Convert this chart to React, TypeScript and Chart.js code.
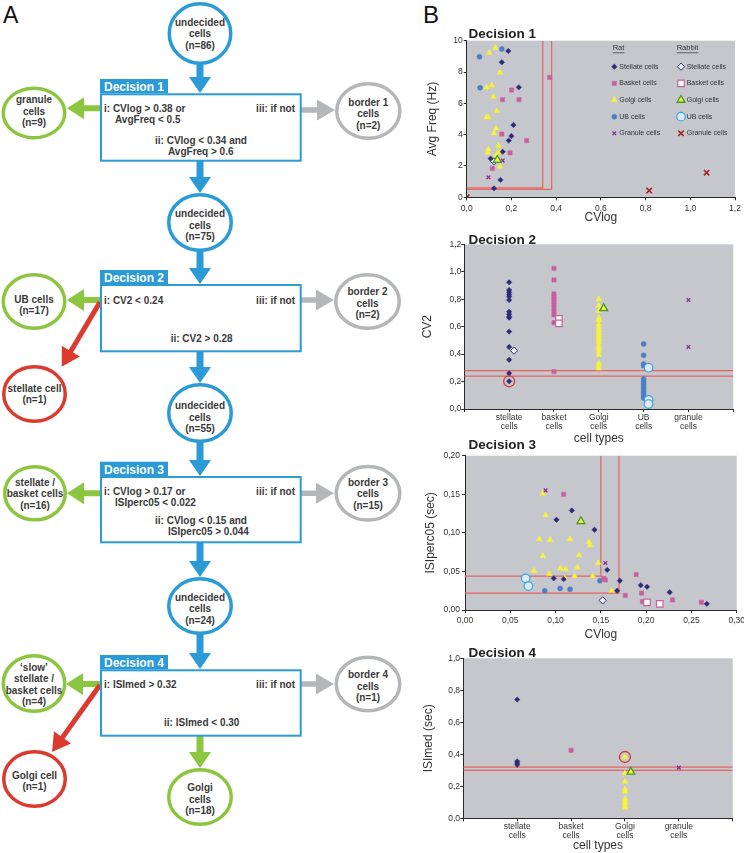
import React, { useEffect, useRef } from 'react';
import { Chart, registerables } from 'chart.js';

Chart.register(...registerables);

const FONT = "'Liberation Sans', Arial, Helvetica, sans-serif";

// ===== Decision 1: CVlog (x) vs Avg Freq in Hz (y) =====
const d1Stellate = [[0.186, 9.34], [0.157, 8.62], [0.233, 7.02], [0.209, 4.62], [0.2, 3.91], [0.188, 3.62], [0.161, 2.91], [0.107, 2.47], [0.119, 2.28], [0.151, 1.11], [0.122, 0.57]];
const d1Basket = [[0.371, 7.66], [0.201, 6.85], [0.16, 6.23], [0.234, 6.23], [0.157, 4.04], [0.268, 3.62], [0.194, 2.83], [0.115, 1.85]];
const d1Golgi = [[0.128, 9.55], [0.101, 9.23], [0.149, 7.96], [0.089, 7.02], [0.112, 7.15], [0.119, 6.43], [0.134, 5.51], [0.097, 5.11], [0.089, 5.11], [0.131, 4.4], [0.122, 4.09], [0.142, 3.3], [0.097, 3.06], [0.094, 2.85], [0.145, 2.91], [0.134, 2.7], [0.149, 1.96], [0.127, 2.55]];
const d1UB = [[0.157, 9.47], [0.057, 8.98], [0.06, 7.0]];
const d1Granule = [[0.161, 2.34], [0.097, 1.28]];
const d1RabbitStellate = [[0.122, 2.3]];
const d1RabbitGolgi = [[0.137, 2.38]];
const d1RabbitGranule = [[0.0, 0.0], [0.816, 0.43], [1.073, 1.57]];
const d1CVlogLimits = [0.34, 0.38];
const d1FreqLimits = [0.6, 0.5];

// ===== Decision 2: CV2 per cell type =====
const d2Categories = [['stellate', 'cells'], ['basket', 'cells'], ['Golgi', 'cells'], ['UB', 'cells'], ['granule', 'cells']];
const d2Stellate = [0.923, 0.867, 0.85, 0.833, 0.819, 0.794, 0.709, 0.69, 0.673, 0.665, 0.564, 0.452, 0.359, 0.26, 0.202];
const d2Basket = [1.025, 0.94, 0.838, 0.819, 0.8, 0.782, 0.758, 0.733, 0.709, 0.685, 0.629, 0.272];
const d2Golgi = [0.8, 0.753, 0.714, 0.665, 0.648, 0.617, 0.595, 0.576, 0.556, 0.539, 0.52, 0.503, 0.483, 0.459, 0.442, 0.423, 0.394, 0.333, 0.316, 0.296];
const d2UB = [0.474, 0.391, 0.328, 0.316, 0.219, 0.199, 0.182, 0.163, 0.146, 0.126, 0.109, 0.09, 0.08];
const d2Granule = [0.794, 0.452];
const d2RabbitStellate = [0.425];
const d2RabbitBasket = [0.656, 0.624];
const d2RabbitGolgi = [0.733];
const d2RabbitUB = [0.301, 0.066, 0.036];
const d2MarkedStellate = [0.202];
const d2Limits = [0.24, 0.28];

// ===== Decision 3: CVlog (x) vs ISIperc05 in sec (y) =====
const d3Stellate = [[0.118, 0.129], [0.101, 0.117], [0.143, 0.104], [0.157, 0.052], [0.171, 0.038], [0.168, 0.025], [0.194, 0.032], [0.201, 0.03], [0.226, 0.023], [0.267, 0.008], [0.098, 0.041], [0.109, 0.04]];
const d3Basket = [[0.109, 0.15], [0.155, 0.039], [0.153, 0.041], [0.189, 0.046], [0.177, 0.019], [0.195, 0.022], [0.196, 0.011], [0.229, 0.013], [0.261, 0.01]];
const d3Golgi = [[0.086, 0.151], [0.089, 0.123], [0.082, 0.092], [0.094, 0.091], [0.116, 0.092], [0.137, 0.088], [0.138, 0.084], [0.086, 0.07], [0.126, 0.071], [0.147, 0.061], [0.076, 0.051], [0.105, 0.054], [0.111, 0.053], [0.124, 0.055], [0.093, 0.047], [0.121, 0.044], [0.141, 0.044], [0.11, 0.041], [0.162, 0.025]];
const d3UB = [[0.088, 0.025], [0.105, 0.028], [0.116, 0.027], [0.149, 0.038]];
const d3Granule = [[0.089, 0.155], [0.155, 0.061]];
const d3RabbitStellate = [[0.152, 0.0125]];
const d3RabbitBasket = [[0.201, 0.01], [0.215, 0.008]];
const d3RabbitGolgi = [[0.128, 0.115]];
const d3RabbitUB = [[0.067, 0.041], [0.07, 0.031]];
const d3CVlogLimits = [0.15, 0.17];
const d3IsiLimits = [0.044, 0.022];

// ===== Decision 4: ISImed per cell type =====
const d4Categories = [['stellate', 'cells'], ['basket', 'cells'], ['Golgi', 'cells'], ['granule', 'cells']];
const d4Stellate = [0.742, 0.356, 0.346, 0.335];
const d4Basket = [0.425];
const d4Golgi = [0.383, 0.281, 0.229, 0.181, 0.167, 0.121, 0.108, 0.094, 0.077, 0.067];
const d4Granule = [0.317];
const d4RabbitGolgi = [0.29];
const d4MarkedGolgi = [0.383];
const d4Limits = [0.3, 0.32];

const RABBIT_OFFSET = 0.11;

// ===== styles =====
const BG = '#c5c7cd';
const AXIS = '#2a2a2a';
const TICK_TXT = '#333';
const LIMIT = '#e5645c';

const ST: Record<string, any> = {
  stellate: { pointStyle: 'rectRot', pointRadius: 2.7, pointBackgroundColor: '#2e2b7d', pointBorderColor: '#2e2b7d', pointBorderWidth: 0.5 },
  basket: { pointStyle: 'rect', pointRadius: 3, pointBackgroundColor: '#c8609c', pointBorderColor: '#c8609c', pointBorderWidth: 0.5 },
  golgi: { pointStyle: 'triangle', pointRadius: 3.3, pointBackgroundColor: '#f7f23a', pointBorderColor: '#f7f23a', pointBorderWidth: 0.5 },
  ub: { pointStyle: 'circle', pointRadius: 2.5, pointBackgroundColor: '#4c7ec3', pointBorderColor: '#4c7ec3', pointBorderWidth: 0.5 },
  granule: { pointStyle: 'crossRot', pointRadius: 2.6, pointBackgroundColor: '#8e2e8e', pointBorderColor: '#8e2e8e', pointBorderWidth: 1.3 },
  rStellate: { pointStyle: 'rectRot', pointRadius: 3.6, pointBackgroundColor: '#eef3fa', pointBorderColor: '#2e2b7d', pointBorderWidth: 1 },
  rBasket: { pointStyle: 'rect', pointRadius: 4.6, pointBackgroundColor: '#ffffff', pointBorderColor: '#c8609c', pointBorderWidth: 1.2 },
  rGolgi: { pointStyle: 'triangle', pointRadius: 4.5, pointBackgroundColor: '#f7f23a', pointBorderColor: '#3f9a2a', pointBorderWidth: 1.3 },
  rUB: { pointStyle: 'circle', pointRadius: 4.3, pointBackgroundColor: '#dde9f5', pointBorderColor: '#3aa3e3', pointBorderWidth: 1.2 },
  rGranule: { pointStyle: 'crossRot', pointRadius: 3.8, pointBackgroundColor: '#a82222', pointBorderColor: '#a82222', pointBorderWidth: 1.6 },
  mark: { pointStyle: 'circle', pointRadius: 5.5, pointBackgroundColor: 'rgba(0,0,0,0)', pointBorderColor: '#d8372c', pointBorderWidth: 1.3 },
};

const pairs = (a: number[][]) => a.map(([x, y]) => ({ x, y }));
const column = (cat: number, vals: number[], off = 0) => vals.map((y) => ({ x: cat + off, y }));
const pts = (data: any[], st: any) => ({ data, ...st, pointHoverRadius: st.pointRadius, showLine: false });
const limitLine = (data: any[]) => ({ data, showLine: true, borderColor: LIMIT, borderWidth: 1.2, pointRadius: 0, pointHoverRadius: 0, fill: false, tension: 0 });
const comma = (d: number) => (v: number) => v.toFixed(d).replace('.', ',');

function drawMarker(ctx: CanvasRenderingContext2D, st: any, x: number, y: number) {
  const r = st.pointRadius;
  ctx.save();
  ctx.fillStyle = st.pointBackgroundColor;
  ctx.strokeStyle = st.pointBorderColor;
  ctx.lineWidth = st.pointBorderWidth;
  ctx.beginPath();
  const s = r * Math.SQRT1_2;
  switch (st.pointStyle) {
    case 'circle': ctx.arc(x, y, r, 0, Math.PI * 2); ctx.fill(); ctx.stroke(); break;
    case 'rect': ctx.rect(x - s, y - s, 2 * s, 2 * s); ctx.fill(); ctx.stroke(); break;
    case 'rectRot': ctx.moveTo(x, y - r); ctx.lineTo(x + r, y); ctx.lineTo(x, y + r); ctx.lineTo(x - r, y); ctx.closePath(); ctx.fill(); ctx.stroke(); break;
    case 'triangle': {
      const a = Math.PI * 2 / 3;
      ctx.moveTo(x, y - r); ctx.lineTo(x + Math.sin(a) * r, y - Math.cos(a) * r); ctx.lineTo(x + Math.sin(2 * a) * r, y - Math.cos(2 * a) * r); ctx.closePath(); ctx.fill(); ctx.stroke(); break;
    }
    case 'crossRot': ctx.moveTo(x - s, y - s); ctx.lineTo(x + s, y + s); ctx.moveTo(x + s, y - s); ctx.lineTo(x - s, y + s); ctx.stroke(); break;
  }
  ctx.restore();
}

const LEGEND_ROWS = [
  ['Stellate cells', 'stellate', 'rStellate'],
  ['Basket cells', 'basket', 'rBasket'],
  ['Golgi cells', 'golgi', 'rGolgi'],
  ['UB cells', 'ub', 'rUB'],
  ['Granule cells', 'granule', 'rGranule'],
];

function panelPlugin(title: string, titleDy: number, legend: boolean) {
  return {
    id: 'panel',
    beforeDraw(chart: any) {
      const { ctx, chartArea: a } = chart;
      ctx.save();
      ctx.fillStyle = BG;
      ctx.fillRect(a.left, a.top, a.right - a.left, a.bottom - a.top);
      ctx.restore();
    },
    afterDraw(chart: any) {
      const { ctx, chartArea: a } = chart;
      ctx.save();
      ctx.font = `bold 13.5px ${FONT}`;
      ctx.fillStyle = '#222';
      ctx.textBaseline = 'alphabetic';
      ctx.textAlign = 'left';
      ctx.fillText(title, 48.5, a.top + titleDy);
      if (legend) {
        ctx.font = `7.5px ${FONT}`;
        ctx.fillStyle = '#333';
        ctx.textBaseline = 'middle';
        const heads: [string, number][] = [['Rat', 192.7], ['Rabbit', 256.7]];
        heads.forEach(([t, x]) => {
          ctx.fillText(t, x, 28.3);
          const w = ctx.measureText(t).width;
          ctx.fillRect(x, 32.5, w, 0.7);
        });
        ctx.font = `7px ${FONT}`;
        LEGEND_ROWS.forEach(([label, rat, rab], i) => {
          const y = 46.7 + i * 16.65;
          drawMarker(ctx, ST[rat], 194.3, y);
          ctx.fillStyle = '#333';
          ctx.fillText(label, 199.3, y);
          drawMarker(ctx, ST[rab], 261, y);
          ctx.fillStyle = '#333';
          ctx.fillText(label, 266.7, y);
        });
      }
      ctx.restore();
    },
  };
}

type AxisSpec = { min: number; max: number; step: number; fmt: (v: number) => any; size: number; horizontal: boolean; tickPad: number; title: string; titlePad: any; lineHeight?: number };
function axis(s: AxisSpec) {
  return {
    type: 'linear',
    min: s.min,
    max: s.max,
    afterFit: (sc: any) => {
      if (s.horizontal) { sc.height = s.size; sc.paddingLeft = 0; sc.paddingRight = 0; }
      else { sc.width = s.size; sc.paddingTop = 0; sc.paddingBottom = 0; }
    },
    ticks: { stepSize: s.step, autoSkip: false, maxRotation: 0, minRotation: 0, padding: s.tickPad, color: TICK_TXT, font: { family: FONT, size: 8.5, lineHeight: s.lineHeight ?? 1.2 }, callback: (v: number) => s.fmt(v) },
    grid: { display: true, drawOnChartArea: false, drawTicks: true, tickLength: 3, color: AXIS, lineWidth: 1 },
    border: { display: true, color: AXIS, width: 1 },
    title: { display: true, text: s.title, color: '#333', font: { family: FONT, size: 12 }, padding: s.titlePad },
  };
}

function baseConfig(datasets: any[], x: any, y: any, padding: any, plugin: any) {
  return {
    type: 'scatter',
    data: { datasets },
    options: {
      animation: false,
      responsive: false,
      maintainAspectRatio: false,
      layout: { padding },
      plugins: { legend: { display: false }, tooltip: { enabled: false } },
      scales: { x, y },
    },
    plugins: [plugin],
  } as any;
}

const catFmt = (cats: string[][]) => (v: number) => (Number.isInteger(v) && v >= 1 && v <= cats.length ? cats[v - 1] : '');

function chart1() {
  const [cIn, cOut] = d1CVlogLimits;
  const [fIn, fOut] = d1FreqLimits;
  const datasets = [
    pts(pairs(d1RabbitGolgi), ST.rGolgi),
    pts(pairs(d1RabbitGranule), ST.rGranule),
    pts(pairs(d1RabbitStellate), ST.rStellate),
    pts(pairs(d1Stellate), ST.stellate),
    pts(pairs(d1Granule), ST.granule),
    pts(pairs(d1Basket), ST.basket),
    pts(pairs(d1UB), ST.ub),
    pts(pairs(d1Golgi), ST.golgi),
    limitLine([{ x: 0, y: fIn }, { x: cIn, y: fIn }, { x: cIn, y: 10 }]),
    limitLine([{ x: 0, y: fOut }, { x: cOut, y: fOut }, { x: cOut, y: 10 }]),
  ];
  return baseConfig(
    datasets,
    axis({ min: 0, max: 1.2, step: 0.2, fmt: comma(1), size: 32.7, horizontal: true, tickPad: 3.6, title: 'CVlog', titlePad: { top: 0, bottom: 4.8 } }),
    axis({ min: 0, max: 10, step: 2, fmt: (v) => String(Math.round(v)), size: 46.7, horizontal: false, tickPad: 1, title: 'Avg Freq (Hz)', titlePad: { top: 5.8, bottom: 0 } }),
    { top: 20.7, right: 9, left: 0, bottom: 0 },
    panelPlugin('Decision 1', -2.4, true),
  );
}

function chart2() {
  const datasets = [
    pts(column(1, d2MarkedStellate), ST.mark),
    pts(column(1, d2RabbitStellate, RABBIT_OFFSET), ST.rStellate),
    pts(column(2, d2RabbitBasket, RABBIT_OFFSET), ST.rBasket),
    pts(column(3, d2RabbitGolgi, RABBIT_OFFSET), ST.rGolgi),
    pts(column(4, d2RabbitUB, RABBIT_OFFSET), ST.rUB),
    pts(column(1, d2Stellate), ST.stellate),
    pts(column(2, d2Basket), ST.basket),
    pts(column(3, d2Golgi), ST.golgi),
    pts(column(4, d2UB), ST.ub),
    pts(column(5, d2Granule), ST.granule),
    ...d2Limits.map((v) => limitLine([{ x: 0, y: v }, { x: 6, y: v }])),
  ];
  return baseConfig(
    datasets,
    axis({ min: 0, max: 6, step: 1, fmt: catFmt(d2Categories), size: 37, horizontal: true, tickPad: 1.6, lineHeight: 1.05, title: 'cell types', titlePad: { top: 0, bottom: 0.5 } }),
    axis({ min: 0, max: 1.2, step: 0.2, fmt: comma(1), size: 44.3, horizontal: false, tickPad: 0, title: 'CV2', titlePad: { top: 0, bottom: 0 } }),
    { top: 18.3, right: 10.7, left: 0, bottom: 0 },
    panelPlugin('Decision 2', -0.3, false),
  );
}

function chart3() {
  const [cIn, cOut] = d3CVlogLimits;
  const [iIn, iOut] = d3IsiLimits;
  const datasets = [
    pts(pairs(d3RabbitGolgi), ST.rGolgi),
    pts(pairs(d3RabbitStellate), ST.rStellate),
    pts(pairs(d3RabbitBasket), ST.rBasket),
    pts(pairs(d3RabbitUB), ST.rUB),
    pts(pairs(d3Stellate), ST.stellate),
    pts(pairs(d3Granule), ST.granule),
    pts(pairs(d3Basket), ST.basket),
    pts(pairs(d3UB), ST.ub),
    pts(pairs(d3Golgi), ST.golgi),
    limitLine([{ x: 0, y: iIn }, { x: cIn, y: iIn }, { x: cIn, y: 0.2 }]),
    limitLine([{ x: 0, y: iOut }, { x: cOut, y: iOut }, { x: cOut, y: 0.2 }]),
  ];
  return baseConfig(
    datasets,
    axis({ min: 0, max: 0.3, step: 0.05, fmt: comma(2), size: 33, horizontal: true, tickPad: 2.6, title: 'CVlog', titlePad: { top: 0, bottom: 0.8 } }),
    axis({ min: 0, max: 0.2, step: 0.05, fmt: comma(2), size: 45, horizontal: false, tickPad: 2, title: 'ISIperc05 (sec)', titlePad: { top: 3.8, bottom: 0 } }),
    { top: 19.7, right: 7.3, left: 0, bottom: 0 },
    panelPlugin('Decision 3', -6.7, false),
  );
}

function chart4() {
  const datasets = [
    pts(column(3, d4MarkedGolgi), ST.mark),
    pts(column(3, d4RabbitGolgi, RABBIT_OFFSET), ST.rGolgi),
    pts(column(1, d4Stellate), ST.stellate),
    pts(column(2, d4Basket), ST.basket),
    pts(column(3, d4Golgi), ST.golgi),
    pts(column(4, d4Granule), ST.granule),
    ...d4Limits.map((v) => limitLine([{ x: 0, y: v }, { x: 5, y: v }])),
  ];
  return baseConfig(
    datasets,
    axis({ min: 0, max: 5, step: 1, fmt: catFmt(d4Categories), size: 34.7, horizontal: true, tickPad: 0.3, lineHeight: 1.1, title: 'cell types', titlePad: { top: 0, bottom: 0 } }),
    axis({ min: 0, max: 1, step: 0.2, fmt: comma(1), size: 43.3, horizontal: false, tickPad: 0.3, title: 'ISImed (sec)', titlePad: { top: 1.8, bottom: 0 } }),
    { top: 18.3, right: 11.3, left: 0, bottom: 0 },
    panelPlugin('Decision 4', -1.6, false),
  );
}

function Panel({ left, top, width, height, build }: { left: number; top: number; width: number; height: number; build: () => any }) {
  const ref = useRef<HTMLCanvasElement>(null);
  useEffect(() => {
    const chart = new Chart(ref.current as HTMLCanvasElement, build());
    return () => chart.destroy();
  }, []);
  return <canvas ref={ref} width={width} height={height} style={{ position: 'absolute', left, top, width, height }} />;
}

// ===== Flowchart (panel A) =====
const BLUE = '#2b9bd7';
const GREEN = '#8cc540';
const RED = '#dc3a2e';
const GRAY = '#b4b6b8';
const TXT = '#3a3a3a';

function arrowPoints(x1: number, y1: number, x2: number, y2: number, shaft: number, headW: number, headL: number) {
  const dx = x2 - x1, dy = y2 - y1, L = Math.hypot(dx, dy);
  const ux = dx / L, uy = dy / L, nx = -uy, ny = ux;
  const bx = x2 - ux * headL, by = y2 - uy * headL;
  const s = shaft / 2, h = headW / 2;
  return [
    [x1 + nx * s, y1 + ny * s], [bx + nx * s, by + ny * s], [bx + nx * h, by + ny * h], [x2, y2],
    [bx - nx * h, by - ny * h], [bx - nx * s, by - ny * s], [x1 - nx * s, y1 - ny * s],
  ].map((p) => p.map((v) => v.toFixed(2)).join(',')).join(' ');
}

const ARROWS: [number, number, number, number, string, number, number, number][] = [
  [200, 64, 200, 93, BLUE, 7, 22, 16],
  [200, 161, 200, 193, BLUE, 7, 22, 16],
  [200, 251, 200, 284, BLUE, 7, 22, 16],
  [200, 352, 200, 383, BLUE, 7, 22, 16],
  [200, 442, 200, 476, BLUE, 7, 22, 16],
  [200, 543, 200, 577, BLUE, 7, 22, 16],
  [200, 634, 200, 669, BLUE, 7, 22, 16],
  [200, 736, 200, 768, GREEN, 7, 22, 16],
  [101, 108.3, 67, 108.3, GREEN, 6, 22, 17],
  [101, 300, 67, 300, GREEN, 6, 22, 17],
  [101, 493.3, 67, 493.3, GREEN, 6, 22, 17],
  [101, 684, 66, 684, GREEN, 6, 22, 17],
  [301, 110, 335, 110, GRAY, 5.5, 21, 18],
  [301, 300, 334, 300, GRAY, 5.5, 21, 18],
  [301, 493.3, 334, 493.3, GRAY, 5.5, 21, 18],
  [301, 684, 334, 684, GRAY, 5.5, 21, 18],
  [100, 302, 61.7, 366.7, RED, 5, 21, 18],
  [100, 685, 52, 752, RED, 5, 21, 18],
];

type Node = { cx: number; cy: number; rx: number; ry: number; color: string; lines: string[]; ty: number };
const NODES: Node[] = [
  { cx: 200, cy: 33.5, rx: 32.5, ry: 31.5, color: BLUE, lines: ['undecided', 'cells', '(n=86)'], ty: 33.5 },
  { cx: 34, cy: 113, rx: 32.5, ry: 26.5, color: GREEN, lines: ['granule', 'cells', '(n=9)'], ty: 111 },
  { cx: 368.3, cy: 111, rx: 33.3, ry: 29, color: GRAY, lines: ['border 1', 'cells', '(n=2)'], ty: 113.5 },
  { cx: 200, cy: 222.5, rx: 33, ry: 29.5, color: BLUE, lines: ['undecided', 'cells', '(n=75)'], ty: 225.3 },
  { cx: 34, cy: 301.5, rx: 32.5, ry: 28.5, color: GREEN, lines: ['UB cells', '(n=17)'], ty: 305 },
  { cx: 34.5, cy: 394, rx: 32.5, ry: 29, color: RED, lines: ['stellate cell', '(n=1)'], ty: 394 },
  { cx: 367.5, cy: 301.5, rx: 33.5, ry: 28.5, color: GRAY, lines: ['border 2', 'cells', '(n=2)'], ty: 303.3 },
  { cx: 200, cy: 413, rx: 33, ry: 30, color: BLUE, lines: ['undecided', 'cells', '(n=55)'], ty: 417 },
  { cx: 35, cy: 493.3, rx: 32, ry: 28.3, color: GREEN, lines: ['stellate /', 'basket cells', '(n=16)'], ty: 493.7 },
  { cx: 368, cy: 493.3, rx: 33.5, ry: 28.5, color: GRAY, lines: ['border 3', 'cells', '(n=15)'], ty: 493.7 },
  { cx: 200, cy: 606, rx: 33, ry: 29, color: BLUE, lines: ['undecided', 'cells', '(n=24)'], ty: 608.5 },
  { cx: 34, cy: 683.5, rx: 32.5, ry: 29.5, color: GREEN, lines: ['\u2018slow\u2019', 'stellate /', 'basket cells', '(n=4)'], ty: 684.5 },
  { cx: 368, cy: 684, rx: 33.5, ry: 28.5, color: GRAY, lines: ['border 4', 'cells', '(n=1)'], ty: 686 },
  { cx: 34.5, cy: 779, rx: 32.5, ry: 29, color: RED, lines: ['Golgi cell', '(n=1)'], ty: 781 },
  { cx: 200, cy: 797, rx: 33, ry: 29, color: GREEN, lines: ['Golgi', 'cells', '(n=18)'], ty: 799 },
];

type BoxText = [string, number, number, 'start' | 'middle' | 'end'];
type Box = { label: string; tabTop: number; top: number; bottom: number; texts: BoxText[] };
const BOXES: Box[] = [
  { label: 'Decision 1', tabTop: 79, top: 93.3, bottom: 161.7, texts: [
    ['i: CVlog > 0.38 or', 104, 108.3, 'start'], ['AvgFreq < 0.5', 115, 119.5, 'start'], ['iii: if not', 295, 108.3, 'end'],
    ['ii: CVlog < 0.34 and', 155, 140, 'start'], ['AvgFreq > 0.6', 168, 151.5, 'start'] ] },
  { label: 'Decision 2', tabTop: 270, top: 284, bottom: 352.3, texts: [
    ['i: CV2 < 0.24', 104, 300, 'start'], ['iii: if not', 295, 300, 'end'], ['ii: CV2 > 0.28', 201.7, 338, 'middle'] ] },
  { label: 'Decision 3', tabTop: 461.7, top: 476, bottom: 543.3, texts: [
    ['i: CVlog > 0.17 or', 104, 491, 'start'], ['ISIperc05 < 0.022', 115, 502.3, 'start'], ['iii: if not', 295, 491, 'end'],
    ['ii: CVlog < 0.15 and', 155, 520, 'start'], ['ISIperc05 > 0.044', 168, 531.7, 'start'] ] },
  { label: 'Decision 4', tabTop: 655, top: 669.3, bottom: 736.7, texts: [
    ['i: ISImed > 0.32', 104, 684, 'start'], ['iii: if not', 295, 684, 'end'], ['ii: ISImed < 0.30', 201.7, 722.7, 'middle'] ] },
];

function Flow() {
  return (
    <svg width={420} height={853} style={{ position: 'absolute', left: 0, top: 0 }} fontFamily={FONT}>
      <text x={3} y={23} fontSize={23} fill="#111">A</text>
      {ARROWS.map((a, i) => (
        <polygon key={'a' + i} points={arrowPoints(a[0], a[1], a[2], a[3], a[5], a[6], a[7])} fill={a[4]} />
      ))}
      {BOXES.map((b, i) => (
        <g key={'b' + i}>
          <rect x={100} y={b.tabTop} width={68} height={b.top - b.tabTop} fill={BLUE} />
          <text x={104} y={b.top - 2} fontSize={12} fontWeight="bold" fill="#fff">{b.label}</text>
          <rect x={101} y={b.top + 1} width={199.7} height={b.bottom - b.top - 2} fill="#fff" stroke={BLUE} strokeWidth={2} />
          {b.texts.map((t, j) => (
            <text key={j} x={t[1]} y={t[2]} fontSize={10} fontWeight="bold" fill={TXT} textAnchor={t[3]} dominantBaseline="central">{t[0]}</text>
          ))}
        </g>
      ))}
      {NODES.map((n, i) => (
        <g key={'n' + i}>
          <ellipse cx={n.cx} cy={n.cy} rx={n.rx - 1.75} ry={n.ry - 1.75} fill="#fff" stroke={n.color} strokeWidth={3.5} />
          {n.lines.map((l, j) => (
            <text key={j} x={n.cx} y={n.ty + (j - (n.lines.length - 1) / 2) * 11.5} fontSize={10} fontWeight="bold" fill={TXT} textAnchor="middle" dominantBaseline="central">{l}</text>
          ))}
        </g>
      ))}
    </svg>
  );
}

export default function App() {
  return (
    <div style={{ position: 'absolute', left: 0, top: 0, width: 744, height: 853, background: '#fff', overflow: 'hidden' }}>
      <Flow />
      <div style={{ position: 'absolute', left: 423, top: 1, fontFamily: FONT, fontSize: 24, lineHeight: '28px', color: '#111' }}>B</div>
      <Panel left={420} top={20} width={324} height={210} build={chart1} />
      <Panel left={420} top={226} width={324} height={220} build={chart2} />
      <Panel left={420} top={436} width={324} height={207} build={chart3} />
      <Panel left={420} top={640} width={324} height={213} build={chart4} />
    </div>
  );
}
